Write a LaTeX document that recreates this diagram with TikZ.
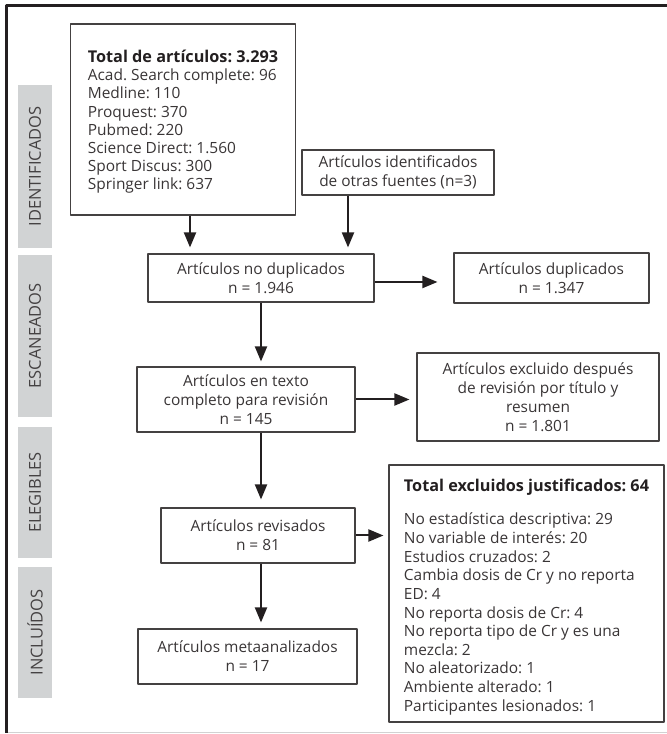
\documentclass[tikz,border=0pt]{standalone}
\usepackage{fontspec}
\setmainfont{Open Sans}
\usetikzlibrary{arrows.meta}
\definecolor{ink}{RGB}{35,31,32}
\definecolor{barfill}{RGB}{209,211,212}
\newcommand\boxtitle[1]{{\fontsize{16.3}{19}\selectfont\bfseries\color{ink}#1}}
\frenchspacing
\begin{document}
\begin{tikzpicture}[x=1bp,y=1bp,line join=bevel,
  box/.style={draw=ink!85,line width=1.1bp,inner sep=0pt,align=center,text=ink!90,font=\fontsize{15.5}{19}\selectfont},
  band/.style={fill=barfill,minimum height=34bp,inner sep=0pt,rotate=90,text=ink!85,font=\fontsize{16.5}{18}\selectfont},
  flow/.style={-{Triangle[length=15bp,width=12bp]},line width=2bp,draw=ink,shorten >=6bp},
]
\useasboundingbox (0,0) rectangle (667,734);
%% frame
\draw [gray!35,line width=1.5bp] (6,1.5) -- (667,1.5);
\draw [ink,line width=2.5bp] (6.3,1) -- (6.3,728.5) -- (667,728.5);
%% stage bands
\node (identificados) at (35bp,567.5bp) [band,minimum width=163bp] {IDENTIFICADOS};
\node (escaneados) at (35bp,398bp) [band,minimum width=162bp] {ESCANEADOS};
\node (elegibles) at (35bp,241.5bp) [band,minimum width=131bp] {ELEGIBLES};
\node (incluidos) at (35bp,101.5bp) [band,minimum width=131bp] {INCLUÍDOS};
%% boxes
\node (total) at (183bp,614.5bp) [box,minimum width=225bp,minimum height=191bp,align=left,font=\fontsize{15.5}{18.3}\selectfont] {\rule{0pt}{17bp}\boxtitle{Total de artículos: 3.293}\\Acad. Search complete: 96\\Medline: 110\\Proquest: 370\\Pubmed: 220\\Science Direct: 1.560\\Sport Discus: 300\\Springer link: 637};
\node (otras) at (398bp,561.5bp) [box,minimum width=192bp,minimum height=45bp] {Artículos identificados\\de otras fuentes (n=3)};
\node (noduplicados) at (261bp,456bp) [box,minimum width=226bp,minimum height=48bp] {Artículos no duplicados\\n = 1.946};
\node (duplicados) at (551.5bp,456bp) [box,minimum width=195bp,minimum height=50bp] {Artículos duplicados\\n = 1.347};
\node (completo) at (246bp,334.5bp) [box,minimum width=218bp,minimum height=65bp] {Artículos en texto\\completo para revisión\\n = 145};
\node (excluido) at (538bp,337bp) [box,minimum width=242bp,minimum height=88bp] {Artículos excluido después\\de revisión por título y\\resumen\\n = 1.801};
\node (revisados) at (258bp,198.5bp) [box,minimum width=194bp,minimum height=55bp] {Artículos revisados\\n = 81};
\node (justificados) at (526.5bp,140.5bp) [box,minimum width=275bp,minimum height=257bp,align=left,font=\fontsize{15.5}{18.7}\selectfont] {\rule{0pt}{19.5bp}\boxtitle{Total excluidos justificados: 64}\\[14.6bp]No estadística descriptiva: 29\\No variable de interés: 20\\Estudios cruzados: 2\\Cambia dosis de Cr y no reporta\\ED: 4\\No reporta dosis de Cr: 4\\No reporta tipo de Cr y es una\\mezcla: 2\\No aleatorizado: 1\\Ambiente alterado: 1\\Participantes lesionados: 1};
\node (metaanalizados) at (247.5bp,77.5bp) [box,minimum width=219bp,minimum height=55bp] {Artículos metaanalizados\\n = 17};
%% connectors
\draw [flow] ([xshift=7bp]total.south) -- ([xshift=7bp]total.south |- noduplicados.north);
\draw [flow] ([xshift=-50bp]otras.south) -- ([xshift=-50bp]otras.south |- noduplicados.north);
\draw [flow,shorten >=16bp] ([yshift=-4bp]noduplicados.east) -- ([yshift=-4bp]duplicados.west);
\draw [flow,shorten >=5bp] (noduplicados.south) -- (noduplicados.south |- completo.north);
\draw [flow,shorten >=7bp] (completo.east) -- (excluido.west |- completo.east);
\draw [flow,shorten >=8bp] (completo.south -| noduplicados.south) -- (revisados.north -| noduplicados.south);
\draw [flow,shorten >=5bp] (revisados.east) -- (justificados.west |- revisados.east);
\draw [flow] (revisados.south -| noduplicados.south) -- (metaanalizados.north -| noduplicados.south);
%
\end{tikzpicture}
\end{document}
